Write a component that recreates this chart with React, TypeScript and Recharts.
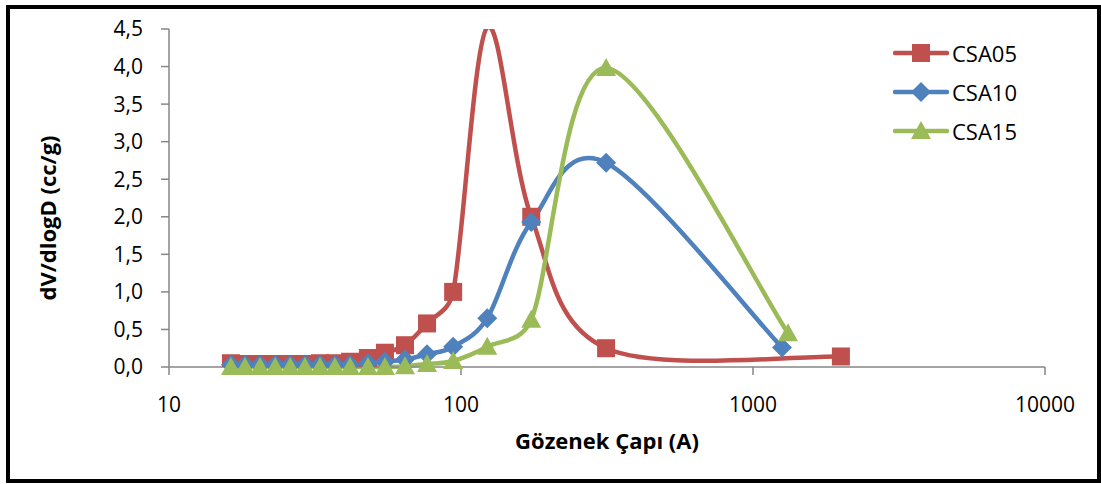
import { LineChart, Line, XAxis, YAxis, Legend } from "recharts";

// pore diameters (A)
const diamCSA05 = [16.3, 18.2, 20.5, 23.1, 26.0, 29.2, 32.9, 37.0, 41.7, 48.0, 54.9, 64.3, 76.5, 94, 123, 174, 314, 2000];
const diamCSA10 = [16.3, 18.2, 20.5, 23.1, 26.0, 29.2, 32.9, 37.0, 41.7, 48.0, 54.9, 64.3, 76.5, 94, 123, 174, 314, 1257];
const diamCSA15 = [16.3, 18.2, 20.5, 23.1, 26.0, 29.2, 32.9, 37.0, 41.7, 48.0, 54.9, 64.3, 76.5, 94, 123, 174, 314, 1318];

// dV/dlogD (cc/g)
const valCSA05 = [0.05, 0.04, 0.04, 0.04, 0.04, 0.04, 0.05, 0.05, 0.07, 0.12, 0.19, 0.29, 0.58, 1.0, 4.52, 2.0, 0.25, 0.14];
const valCSA10 = [0.03, 0.03, 0.03, 0.03, 0.03, 0.03, 0.03, 0.03, 0.03, 0.05, 0.07, 0.1, 0.17, 0.27, 0.65, 1.93, 2.72, 0.26];
const valCSA15 = [0, 0, 0, 0, 0, 0, 0, 0, 0, 0, 0, 0.01, 0.04, 0.08, 0.27, 0.63, 3.98, 0.45];

const xTicks = [10, 100, 1000, 10000];
const yTicks = [0, 0.5, 1, 1.5, 2, 2.5, 3, 3.5, 4, 4.5];
const Y_MAX = 4.5;

const RED = "#C0504D";
const BLUE = "#4F81BD";
const GREEN = "#9BBB59";
const AXIS = "#868686";
const FONT = "'Open Sans', sans-serif";

const toPoints = (xs: number[], ys: number[]) => xs.map((x, i) => ({ x, y: ys[i] }));

const csa05 = toPoints(diamCSA05, valCSA05);
const csa10 = toPoints(diamCSA10, valCSA10);
const csa15 = toPoints(diamCSA15, valCSA15);

// Excel-like smoothed line: Catmull-Rom beziers, handles capped at half a segment
const excelSmooth = (context: any) => {
  let pts: number[][] = [];
  const dist = (a: number[], b: number[]) => Math.hypot(b[0] - a[0], b[1] - a[1]);
  return {
    areaStart() {},
    areaEnd() {},
    lineStart() {
      pts = [];
    },
    point(x: number, y: number) {
      pts.push([+x, +y]);
    },
    lineEnd() {
      const n = pts.length;
      if (!n) return;
      context.moveTo(pts[0][0], pts[0][1]);
      for (let i = 0; i < n - 1; i++) {
        const p0 = pts[Math.max(i - 1, 0)];
        const p1 = pts[i];
        const p2 = pts[i + 1];
        const p3 = pts[Math.min(i + 2, n - 1)];
        const seg = dist(p1, p2);
        const d02 = dist(p0, p2) || 1;
        const d13 = dist(p1, p3) || 1;
        const f1 = Math.min(1 / 6, seg / (2 * d02));
        const f2 = Math.min(1 / 6, seg / (2 * d13));
        context.bezierCurveTo(
          p1[0] + (p2[0] - p0[0]) * f1,
          p1[1] + (p2[1] - p0[1]) * f1,
          p2[0] - (p3[0] - p1[0]) * f2,
          p2[1] - (p3[1] - p1[1]) * f2,
          p2[0],
          p2[1]
        );
      }
    },
  };
};

type Shape = "square" | "diamond" | "triangle";

const Marker = ({ shape, cx, cy, color }: { shape: Shape; cx: number; cy: number; color: string }) => {
  if (shape === "square") {
    return <rect x={cx - 9} y={cy - 9} width={18} height={18} fill={color} />;
  }
  if (shape === "diamond") {
    return <polygon points={`${cx},${cy - 10} ${cx + 10},${cy} ${cx},${cy + 10} ${cx - 10},${cy}`} fill={color} />;
  }
  return <polygon points={`${cx},${cy - 10} ${cx + 10},${cy + 8} ${cx - 10},${cy + 8}`} fill={color} />;
};

const makeDot = (shape: Shape, color: string) => (props: any) => {
  const { cx, cy, value, index } = props;
  const v = Array.isArray(value) ? value[1] : value;
  // Excel hides markers of points outside the axis range
  if (cx == null || cy == null || v > Y_MAX) return <g key={`d-${index}`} />;
  return (
    <g key={`d-${index}`}>
      <Marker shape={shape} cx={cx} cy={cy} color={color} />
    </g>
  );
};

const series = [
  { name: "CSA05", data: csa05, color: RED, shape: "square" as Shape },
  { name: "CSA10", data: csa10, color: BLUE, shape: "diamond" as Shape },
  { name: "CSA15", data: csa15, color: GREEN, shape: "triangle" as Shape },
];

const ChartLegend = () => (
  <div style={{ fontFamily: FONT, fontSize: 22, color: "#000" }}>
    {series.map((s) => (
      <div key={s.name} style={{ display: "flex", alignItems: "center", height: 39 }}>
        <svg width={56} height={24} style={{ display: "block" }}>
          <line x1={2} y1={12} x2={54} y2={12} stroke={s.color} strokeWidth={4.5} strokeLinecap="round" />
          <Marker shape={s.shape} cx={28} cy={12} color={s.color} />
        </svg>
        <span style={{ marginLeft: 3, lineHeight: 1 }}>{s.name}</span>
      </div>
    ))}
  </div>
);

const fmt = (v: number) => v.toFixed(1).replace(".", ",");

const App = () => {
  return (
    <div style={{ position: "absolute", left: 0, top: 0, width: 1101, height: 484, background: "#fff" }}>
      <style>{"body{margin:0}"}</style>
      <div
        style={{
          position: "absolute",
          left: 6,
          top: 5,
          width: 1095,
          height: 478,
          boxSizing: "border-box",
          border: "4px solid #000",
        }}
      />
      <div style={{ position: "absolute", left: 0, top: 0 }}>
        <LineChart width={1101} height={484} margin={{ top: 29, right: 56, bottom: 0, left: 0 }}>
          <XAxis
            dataKey="x"
            type="number"
            scale="log"
            domain={[10, 10000]}
            ticks={xTicks}
            height={117}
            stroke={AXIS}
            strokeWidth={1.5}
            tickSize={8}
            tickMargin={22}
            tick={{ fill: "#000", fontSize: 21, fontFamily: FONT }}
            tickLine={{ stroke: AXIS, strokeWidth: 1.5 }}
            label={{
              value: "Gözenek Çapı (A)",
              position: "insideBottom",
              offset: 35,
              fill: "#000",
              fontSize: 22,
              fontWeight: 700,
              fontFamily: FONT,
            }}
          />
          <YAxis
            yAxisId="main"
            type="number"
            domain={[0, Y_MAX]}
            ticks={yTicks}
            width={169}
            stroke={AXIS}
            strokeWidth={1.5}
            tickSize={8}
            tickMargin={18}
            tickFormatter={fmt}
            tick={{ fill: "#000", fontSize: 21, fontFamily: FONT }}
            tickLine={{ stroke: AXIS, strokeWidth: 1.5 }}
            label={{
              content: () => (
                <text
                  x={47}
                  y={218}
                  transform="rotate(-90 47 218)"
                  textAnchor="middle"
                  dominantBaseline="central"
                  fill="#000"
                  fontSize={22}
                  fontWeight={700}
                  fontFamily={FONT}
                >
                  dV/dlogD (cc/g)
                </text>
              ),
            }}
          />
          <YAxis
            yAxisId="clip"
            orientation="right"
            width={0}
            type="number"
            domain={[0, Y_MAX]}
            ticks={yTicks}
            allowDataOverflow
            hide
          />
          <Legend
            layout="vertical"
            align="center"
            verticalAlign="middle"
            content={() => <ChartLegend />}
            wrapperStyle={{ left: 893, top: 33, width: 160, height: 120 }}
          />
          {series.map((s) => (
            <Line
              key={s.name}
              yAxisId={s.name === "CSA05" ? "clip" : "main"}
              data={s.data}
              dataKey="y"
              name={s.name}
              type={excelSmooth as any}
              stroke={s.color}
              strokeWidth={4.5}
              dot={makeDot(s.shape, s.color)}
              activeDot={false}
              isAnimationActive={false}
            />
          ))}
        </LineChart>
      </div>
    </div>
  );
};

export default App;
